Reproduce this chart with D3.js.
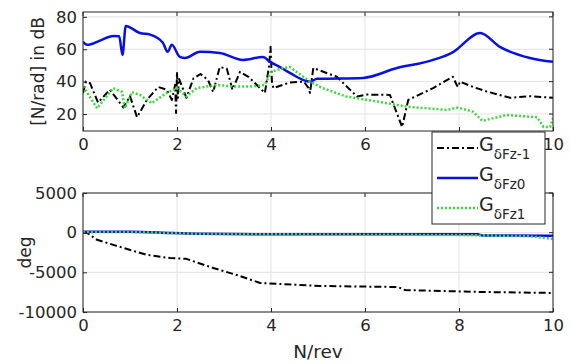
<!DOCTYPE html>
<html><head><meta charset="utf-8">
<script src="https://cdn.jsdelivr.net/npm/d3@7"></script>
<style>body{margin:0;background:#fff}svg{display:block}text{font-family:"DejaVu Sans",sans-serif;fill:#262626}</style>
</head><body><svg id="c" width="571" height="364"></svg>
<script>
// ---- data ----
const xTicks = [0,2,4,6,8,10];
const magTicks = [20,40,60,80];
const phaseTicks = [-10000,-5000,0,5000];
const seriesNames = ["\u03B4Fz-1","\u03B4Fz0","\u03B4Fz1"];

const magBlackX = [0,0.06,0.15,0.32,0.57,0.86,1.0,1.15,1.36,1.6,1.78,1.89,1.96,1.98,2.0,2.02,2.04,2.2,2.35,2.5,2.66,2.77,2.91,3.06,3.18,3.34,3.52,3.87,3.96,3.99,4.02,4.05,4.4,4.7,4.8,4.83,4.9,5.4,5.83,6.04,6.53,6.79,6.92,7.45,7.87,7.95,7.98,8.02,8.3,8.6,9.09,9.5,10];
const magBlackY = [33,40,39,27,35,24,31,18,28.7,36.7,35,28.7,38,20.6,46,30,42,30,42,44.7,41,33.6,49,48,35,46,43,33,50,61.5,40,36,39.5,40,36,33,48.4,43,30.8,32,31.8,12,28.7,36,43,38,36.7,40,36.7,33.8,30,31,30];

const magBlueX = [0,0.09,0.36,0.64,0.77,0.84,0.91,1.21,1.43,1.7,1.8,1.89,2.06,2.17,2.49,2.91,3.4,3.83,3.98,4.19,4.4,4.83,4.98,5.96,6.68,7.45,7.96,8.0,8.45,8.87,9.51,10];
const magBlueY = [64.5,62.7,65.3,68.2,68,56.5,74.4,70,69,64,58.4,62.7,55.3,54.6,58.4,57.7,53.4,55.2,52.2,49,45.4,40,41.7,42.3,48.4,53.4,60,61,70,61.5,54.6,52.2];

const magGreenX = [0,0.08,0.3,0.64,0.83,0.89,1.04,1.21,1.46,1.78,2.0,2.2,2.42,2.85,3.2,3.62,3.87,4.0,4.26,4.4,4.83,5.1,5.6,6.3,6.9,7.74,7.98,8.3,8.5,9.0,9.66,9.8,9.94,10];
const magGreenY = [37,33.6,23.5,36,33.7,23.5,33.5,31.8,26.7,33,36,30.8,36,38,37,37,38,46,48.4,49,40,36,30.8,27.5,24.5,22.5,24,21.4,15.7,19.4,18,12,12,17.5];

const phBlackX = [0,0.08,0.3,0.86,1.36,1.85,2.2,2.77,3.27,3.77,4.19,5.04,6.7,6.85,8.5,10];
const phBlackY = [0,0,-900,-1930,-2800,-3200,-3300,-4450,-5330,-6350,-6470,-6720,-6850,-7230,-7480,-7600];

const phBlueX = [0,1,1.9,2.5,4,6,8.4,8.5,10];
const phBlueY = [100,100,-50,-150,-200,-200,-200,-350,-400];

const phGreenX = [0,1,1.9,2.5,4,6,8,9.5,10];
const phGreenY = [100,80,-50,-150,-200,-250,-300,-450,-800];

// ---- drawing ----
const svg = d3.select("#c");
const X0 = 83, X1 = 553;
const x = d3.scaleLinear().domain([0,10]).range([X0,X1]);
const yTop = d3.scaleLinear().domain([9.5,83]).range([131,12]);
const yBot = d3.scaleLinear().domain([-10000,5000]).range([312,193]);

const styles = [
  {color:"#000000", width:2, dash:"7,3,2,3", curve:d3.curveLinear},
  {color:"#0a10e0", width:2.5, dash:null, curve:d3.curveMonotoneX},
  {color:"#3ad83a", width:2.5, dash:"2,2", curve:d3.curveLinear}
];

function panel(y, yt, yLabel, series, labelX){
  const [r0,r1] = y.range();
  const g = svg.append("g");
  g.selectAll(".gx").data(xTicks).join("line")
    .attr("x1",d=>x(d)).attr("x2",d=>x(d)).attr("y1",r0).attr("y2",r1)
    .attr("stroke","#e3e3e3").attr("stroke-width",1);
  g.selectAll(".gy").data(yt).join("line")
    .attr("x1",X0).attr("x2",X1).attr("y1",d=>y(d)).attr("y2",d=>y(d))
    .attr("stroke","#e3e3e3").attr("stroke-width",1);
  const clipId = "clip"+Math.round(r1);
  svg.append("clipPath").attr("id",clipId).append("rect")
    .attr("x",X0).attr("y",r1).attr("width",X1-X0).attr("height",r0-r1);
  series.forEach((s,i)=>{
    const pts = s.x.map((v,j)=>[v,s.y[j]]);
    g.append("path").attr("clip-path",`url(#${clipId})`)
      .attr("d", d3.line().curve(styles[i].curve).x(d=>x(d[0])).y(d=>y(d[1]))(pts))
      .attr("fill","none").attr("stroke",styles[i].color)
      .attr("stroke-width",styles[i].width)
      .attr("stroke-dasharray",styles[i].dash)
      .attr("stroke-linejoin","round");
  });
  const ax = g.append("g").attr("transform",`translate(0,${r0})`)
    .call(d3.axisBottom(x).tickValues(xTicks).tickSize(-4).tickPadding(5).tickFormat(d3.format("d")));
  const ay = g.append("g").attr("transform",`translate(${X0},0)`)
    .call(d3.axisLeft(y).tickValues(yt).tickSize(-4).tickPadding(6).tickFormat(d=>String(d)));
  [ax,ay].forEach(a=>{
    a.select(".domain").remove();
    a.selectAll("line").attr("stroke","#262626");
    a.selectAll("text").attr("font-size",16.5).attr("fill","#262626")
      .style("font-family",'"DejaVu Sans",sans-serif');
  });
  ax.selectAll("text").attr("dy","0.85em");
  g.selectAll(".tt").data(xTicks).join("line")
    .attr("x1",d=>x(d)).attr("x2",d=>x(d)).attr("y1",r1).attr("y2",r1+4).attr("stroke","#262626");
  g.selectAll(".tr").data(yt).join("line")
    .attr("x1",X1-4).attr("x2",X1).attr("y1",d=>y(d)).attr("y2",d=>y(d)).attr("stroke","#262626");
  g.append("rect").attr("x",X0).attr("y",r1).attr("width",X1-X0).attr("height",r0-r1)
    .attr("fill","none").attr("stroke","#262626").attr("stroke-width",1);
  g.append("text").attr("transform",`translate(${labelX},${(r0+r1)/2}) rotate(-90)`)
    .attr("text-anchor","middle").attr("dy","0.35em").attr("font-size",17).text(yLabel);
}

panel(yTop, magTicks, "[N/rad] in dB", [
  {x:magBlackX,y:magBlackY},{x:magBlueX,y:magBlueY},{x:magGreenX,y:magGreenY}], 38);
panel(yBot, phaseTicks, "deg", [
  {x:phBlackX,y:phBlackY},{x:phBlueX,y:phBlueY},{x:phGreenX,y:phGreenY}], 25);

svg.append("text").attr("x",318).attr("y",358).attr("text-anchor","middle")
  .attr("font-size",18.5).text("N/rev");

// legend
const lg = svg.append("g");
lg.append("rect").attr("x",432).attr("y",132).attr("width",113).attr("height",92)
  .attr("fill","#fff").attr("stroke","#262626").attr("stroke-width",1);
const ly = [148,178,208];
seriesNames.forEach((n,i)=>{
  lg.append("line").attr("x1",437).attr("x2",478).attr("y1",ly[i]).attr("y2",ly[i])
    .attr("stroke",styles[i].color).attr("stroke-width",styles[i].width)
    .attr("stroke-dasharray",styles[i].dash);
  const t = lg.append("text").attr("x",479).attr("y",ly[i]+3).attr("font-size",19);
  t.append("tspan").text("G");
  t.append("tspan").attr("dy",8).attr("font-size",13.5).text(n);
});
</script></body></html>
